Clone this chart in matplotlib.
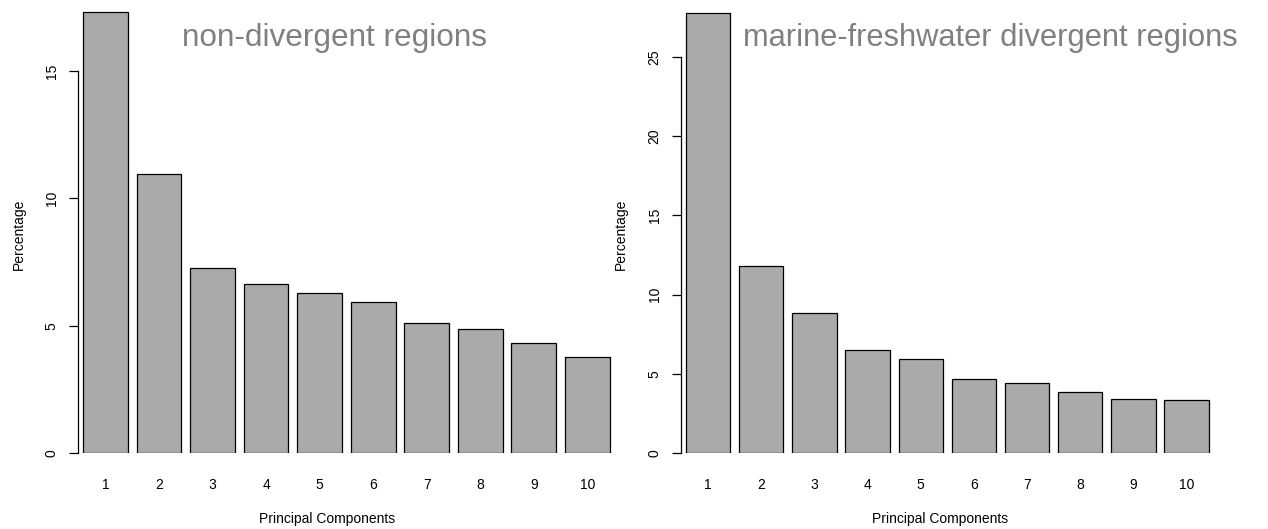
import matplotlib
matplotlib.use('Agg')
import matplotlib.pyplot as plt

plt.rcParams['font.family'] = ['Liberation Sans', 'DejaVu Sans']

# percentage of variance explained by each principal component
components = ['1', '2', '3', '4', '5', '6', '7', '8', '9', '10']
nondiv_pct = [17.31, 10.94, 7.26, 6.63, 6.28, 5.92, 5.11, 4.89, 4.31, 3.78]
marine_pct = [27.8, 11.79, 8.86, 6.53, 5.96, 4.66, 4.39, 3.84, 3.43, 3.35]

titles = ['non-divergent regions', 'marine-freshwater divergent regions']

# R barplot style: width 1, space 0.2
centers = [0.7 + 1.2*i for i in range(len(components))]

W, H = 1268, 529
x_lo, x_hi = 0.087, 12.2

fig = plt.figure(figsize=(W/100, H/100), dpi=100)

def panel(x0, px_unit, vals, title, tsize, ymax, ybound, yticks, title_cx, xlab_cx, ylab_cx):
    ax_w = (x_hi - x_lo) * px_unit
    ax = fig.add_axes([x0/W, (H - 453)/H, ax_w/W, 453/H])
    ax.bar(centers, vals, width=1.0, color='#aaaaaa', edgecolor='black', linewidth=0.9)
    ax.set_xlim(x_lo, x_hi)
    ax.set_ylim(0, ymax)
    for s in ['top', 'right', 'bottom']:
        ax.spines[s].set_visible(False)
    ax.spines['left'].set_bounds(ybound[0], ybound[1])
    ax.spines['left'].set_linewidth(0.9)
    ax.set_yticks(yticks)
    ax.set_yticklabels([str(t) for t in yticks], rotation=90, va='center', fontsize=10)
    ax.tick_params(axis='y', length=6.5, width=0.9, pad=7.5)
    ax.set_xticks(centers)
    ax.set_xticklabels(components, fontsize=10)
    ax.tick_params(axis='x', length=0, pad=18)
    ax.set_ylabel('Percentage', fontsize=10, va='center')
    ax.set_xlabel('Principal Components', fontsize=10, va='center')
    ax.yaxis.set_label_coords((ylab_cx - x0)/ax_w, 0.482)
    ax.xaxis.set_label_coords((xlab_cx - x0)/ax_w, -66/453)
    ax.text((title_cx - x0)/ax_w, 1 - 38/453, title, transform=ax.transAxes,
            ha='center', va='center', fontsize=tsize, color='#808080')
    return ax

panel(78.3, 44.6, nondiv_pct, titles[0], 22.7, 453/25.46, (0, 15), [0, 5, 10, 15],
      335, 326.7, 18.5)
panel(681, 44.3, marine_pct, titles[1], 22.25, 453/15.84, (0, 25), [0, 5, 10, 15, 20, 25],
      990.5, 940, 620.5)

fig.savefig('out.png', dpi=100)
